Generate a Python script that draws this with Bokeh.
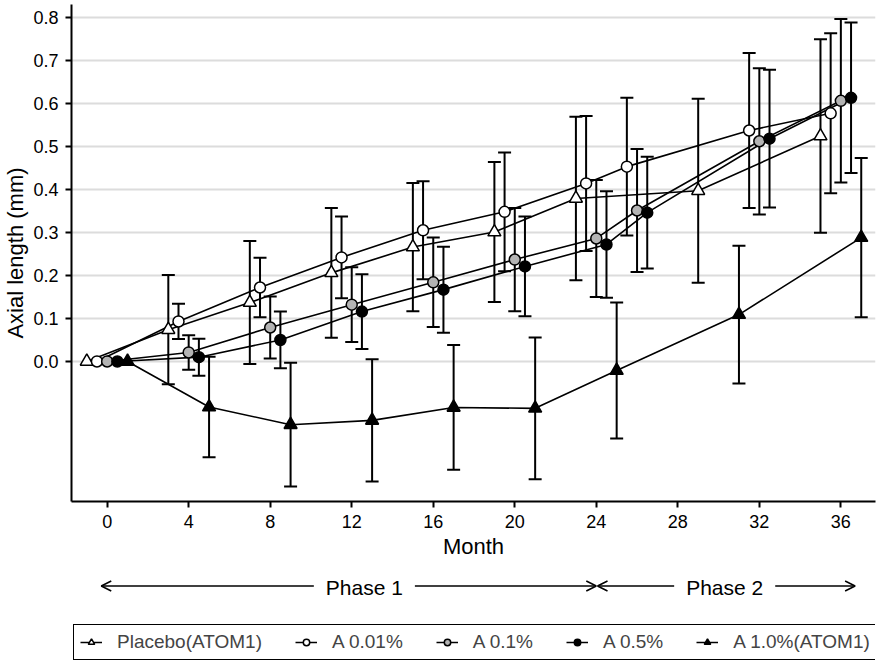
from bokeh.plotting import figure
from bokeh.models import (Range1d, FixedTicker, NumeralTickFormatter, ColumnDataSource,
                          Whisker, TeeHead, Arrow, OpenHead, Label, Legend, LegendItem)
from bokeh.layouts import column
from bokeh.embed import file_html
from bokeh.resources import INLINE

FONT = "Liberation Sans"

# ---- data ----
x_ticks = [0, 4, 8, 12, 16, 20, 24, 28, 32, 36]
y_ticks = [0.0, 0.1, 0.2, 0.3, 0.4, 0.5, 0.6, 0.7, 0.8]

months_atom1 = [0, 4, 8, 12, 16, 20, 24, 30, 36]
months_atom2 = [0, 4, 8, 12, 16, 20, 24, 26, 32, 36]

placebo_mean = [0.0, 0.074, 0.137, 0.206, 0.266, 0.301, 0.379, 0.397, 0.524]
placebo_err = [0.0, 0.127, 0.143, 0.151, 0.149, 0.163, 0.190, 0.214, 0.225]

a001_mean = [0.0, 0.093, 0.172, 0.242, 0.305, 0.348, 0.414, 0.453, 0.537, 0.577]
a001_err = [0.0, 0.041, 0.069, 0.095, 0.114, 0.138, 0.157, 0.160, 0.180, 0.186]

a01_mean = [0.0, 0.021, 0.079, 0.132, 0.184, 0.237, 0.286, 0.351, 0.512, 0.606]
a01_err = [0.0, 0.040, 0.072, 0.087, 0.104, 0.120, 0.136, 0.143, 0.170, 0.190]

a05_mean = [0.0, 0.010, 0.050, 0.116, 0.167, 0.221, 0.272, 0.346, 0.518, 0.613]
a05_err = [0.0, 0.043, 0.066, 0.087, 0.100, 0.116, 0.124, 0.130, 0.160, 0.175]

a10_mean = [0.0, -0.106, -0.147, -0.137, -0.107, -0.109, -0.021, 0.109, 0.288]
a10_err = [0.0, 0.117, 0.144, 0.142, 0.145, 0.165, 0.158, 0.160, 0.185]

series_names = ["Placebo(ATOM1)", "A 0.01%", "A 0.1%", "A 0.5%", "A 1.0%(ATOM1)"]
series_months = [months_atom1, months_atom2, months_atom2, months_atom2, months_atom1]
series_means = [placebo_mean, a001_mean, a01_mean, a05_mean, a10_mean]
series_errs = [placebo_err, a001_err, a01_err, a05_err, a10_err]

phase_names = ["Phase 1", "Phase 2"]

# ---- styles ----
dodge_offsets = [-1.0, -0.5, 0.0, 0.5, 1.0]
markers = ["triangle", "circle", "circle", "circle", "triangle"]
fills = ["white", "white", "#b4b4b4", "black", "black"]
msizes = [13, 11, 11, 11, 13]

p = figure(width=877, height=570,
           x_range=Range1d(-1.75, 37.7), y_range=Range1d(-0.3256, 0.830),
           output_backend="svg", toolbar_location=None,
           min_border_left=65, min_border_right=2, min_border_top=4, min_border_bottom=69)
p.outline_line_color = None
p.background_fill_color = "white"
p.xgrid.visible = False
yt = FixedTicker(ticks=y_ticks)
p.yaxis.ticker = yt
p.ygrid.ticker = yt
p.ygrid.grid_line_color = "#dcdcdc"
p.ygrid.grid_line_width = 2
p.yaxis.formatter = NumeralTickFormatter(format="0.0")
p.xaxis.ticker = FixedTicker(ticks=x_ticks)
p.xaxis.axis_label = "Month"
p.yaxis.axis_label = "Axial length (mm)"
for ax in (p.xaxis, p.yaxis):
    ax.axis_line_width = 2
    ax.axis_line_color = "black"
    ax.major_tick_line_width = 2
    ax.major_tick_in = 0
    ax.major_tick_out = 6
    ax.minor_tick_out = 0
    ax.minor_tick_in = 0
    ax.major_label_text_font = FONT
    ax.major_label_text_font_size = "18px"
    ax.major_label_text_color = "black"
    ax.axis_label_text_font = FONT
    ax.axis_label_text_font_style = "normal"
    ax.axis_label_text_color = "black"
p.xaxis.axis_label_text_font_size = "22px"
p.yaxis.axis_label_text_font_size = "22px"
p.xaxis.major_label_standoff = 7
p.xaxis.axis_label_standoff = 3
p.yaxis.major_label_standoff = 7
p.yaxis.axis_label_standoff = 2

sources = []
for i in range(5):
    xs = [m + dodge_offsets[i] for m in series_months[i]]
    src = ColumnDataSource(data=dict(x=xs, y=series_means[i]))
    sources.append(src)
    p.line("x", "y", source=src, line_color="black", line_width=1.6)

for i in range(5):
    xs, lo, hi = [], [], []
    for m, v, e in zip(series_months[i], series_means[i], series_errs[i]):
        if e > 0:
            xs.append(m + dodge_offsets[i])
            lo.append(v - e)
            hi.append(v + e)
    wsrc = ColumnDataSource(data=dict(base=xs, lower=lo, upper=hi))
    w = Whisker(source=wsrc, base="base", lower="lower", upper="upper", dimension="height",
                line_color="black", line_width=2,
                upper_head=TeeHead(size=13, line_width=2, line_color="black"),
                lower_head=TeeHead(size=13, line_width=2, line_color="black"))
    p.add_layout(w)

for i in range(5):
    p.scatter("x", "y", source=sources[i], marker=markers[i], size=msizes[i],
              fill_color=fills[i], line_color="black", line_width=1.5)

# ---- phase arrows and legend ----
p2 = figure(width=877, height=92, x_range=p.x_range, y_range=Range1d(662, 570),
            output_backend="svg", toolbar_location=None,
            x_axis_type=None, y_axis_type=None,
            min_border_left=65, min_border_right=2, min_border_top=0, min_border_bottom=0)
p2.outline_line_color = None
p2.grid.visible = False

phase_spans = [(-0.29, 24.0), (24.06, 36.7)]
phase_label_x = [12.62, 30.3]
arrow_y = 585.5
for name, (a, b), lx in zip(phase_names, phase_spans, phase_label_x):
    p2.add_layout(Arrow(x_start=a, x_end=b, y_start=arrow_y, y_end=arrow_y,
                        line_color="black", line_width=1.5,
                        start=OpenHead(size=10, line_width=1.5, line_color="black"),
                        end=OpenHead(size=10, line_width=1.5, line_color="black")))
    p2.add_layout(Label(x=lx, y=arrow_y + 1, text=name,
                        text_align="center", text_baseline="middle",
                        text_font=FONT, text_font_size="21px", text_color="black",
                        background_fill_color="white", padding=12))

# legend-only renderers: one point placed outside the visible range
items = []
for i in range(5):
    rl = p2.line(x=[-100, -99], y=[-100, -100], line_color="black", line_width=1.5)
    rs = p2.scatter(x=[-100], y=[-100], marker=markers[i], size=msizes[i] - 2,
                    fill_color=fills[i], line_color="black", line_width=1.5)
    items.append(LegendItem(label=series_names[i], renderers=[rl, rs]))

legend = Legend(items=items, orientation="horizontal", location=(2, 2),
                label_text_font=FONT, label_text_font_size="19px",
                glyph_width=22, glyph_height=16, label_height=16,
                label_standoff=15, spacing=33,
                padding=6, margin=0, border_line_color="black", border_line_width=1.5,
                border_line_alpha=1.0,
                background_fill_color="white", background_fill_alpha=1.0)
p2.add_layout(legend)

layout = column(p, p2, spacing=0)
open("out.html", "w").write(file_html(layout, INLINE))
